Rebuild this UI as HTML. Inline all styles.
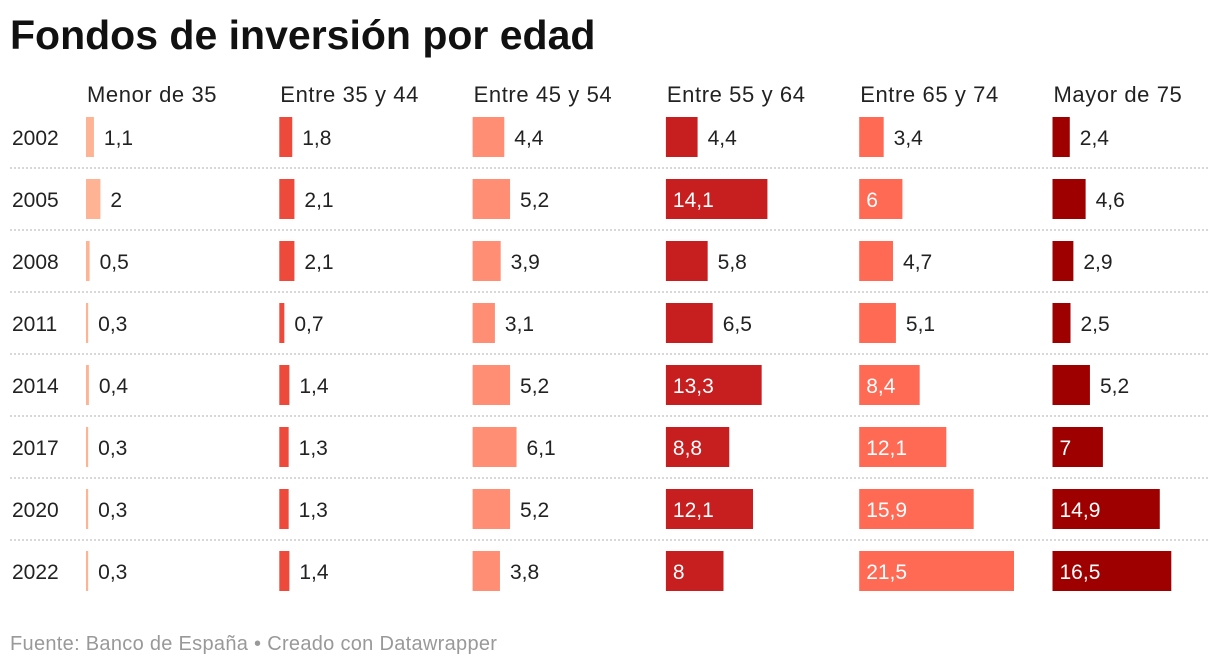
<!DOCTYPE html>
<html><head><meta charset="utf-8"><style>
body{margin:0;background:#fff;font-family:"Liberation Sans",sans-serif;}
#wrap{position:relative;width:1220px;height:668px;overflow:hidden;}
h1{position:absolute;left:10px;top:12px;margin:0;font-size:41px;font-weight:bold;color:#111;letter-spacing:0px}
.foot{position:absolute;left:10px;top:633px;font-size:20px;color:#999;letter-spacing:0.3px}
</style></head><body>
<div id="wrap">
<h1>Fondos de inversión por edad</h1>
<svg id="svg" width="1220" height="668" style="position:absolute;left:0;top:0"></svg>
<div class="foot">Fuente: Banco de España • Creado con Datawrapper</div>
</div>
<script>
const years=["2002","2005","2008","2011","2014","2017","2020","2022"];
const groups=["Menor de 35","Entre 35 y 44","Entre 45 y 54","Entre 55 y 64","Entre 65 y 74","Mayor de 75"];
const menor35=[1.1,2,0.5,0.3,0.4,0.3,0.3,0.3];
const e35_44=[1.8,2.1,2.1,0.7,1.4,1.3,1.3,1.4];
const e45_54=[4.4,5.2,3.9,3.1,5.2,6.1,5.2,3.8];
const e55_64=[4.4,14.1,5.8,6.5,13.3,8.8,12.1,8];
const e65_74=[3.4,6,4.7,5.1,8.4,12.1,15.9,21.5];
const mayor75=[2.4,4.6,2.9,2.5,5.2,7,14.9,16.5];
const series=[menor35,e35_44,e45_54,e55_64,e65_74,mayor75];
const colors=["#fdb394","#ee4a3b","#ff8e74","#c71e1f","#ff6a55","#9e0000"];
const NS="http://www.w3.org/2000/svg";
const svg=document.getElementById('svg');
const colX=i=>86+i*193.3;
const xs=v=>v*7.2;
const rowY=r=>137+r*62;
function mk(t,a){const e=document.createElementNS(NS,t);for(const k in a)e.setAttribute(k,a[k]);svg.appendChild(e);return e;}
function fmt(v){return String(v).replace('.',',');}
groups.forEach((g,i)=>{
  const t=mk('text',{x:colX(i)+1,y:102,'font-size':22,fill:'#222','letter-spacing':'0.6'});t.textContent=g;
  
  
});
years.forEach((y,r)=>{
  const t=mk('text',{x:12,y:rowY(r)+8,'font-size':21,fill:'#222'});t.textContent=y;
  
  
  if(r<years.length-1){
    const l=mk('line',{x1:10,x2:1210,y1:rowY(r)+31,y2:rowY(r)+31,stroke:'#ccc','stroke-width':1.5,'stroke-dasharray':'2,2'});
    
    
  }
  series.forEach((s,i)=>{
    const v=s[r],w=xs(v),x0=colX(i);
    const b=mk('rect',{x:x0,y:rowY(r)-20,width:w,height:40,fill:colors[i]});
    
    
    const lbl=fmt(v);
    const tw=lbl.replace(',','').length*11.5+(lbl.includes(',')?5:0);
    const inside=w>tw+20;
    const t=mk('text',{x:inside?x0+7:x0+w+10,y:rowY(r)+8,'font-size':21,fill:inside?'#fff':'#222'});
    t.textContent=lbl;
    
    
  });
});
</script>
</body></html>
